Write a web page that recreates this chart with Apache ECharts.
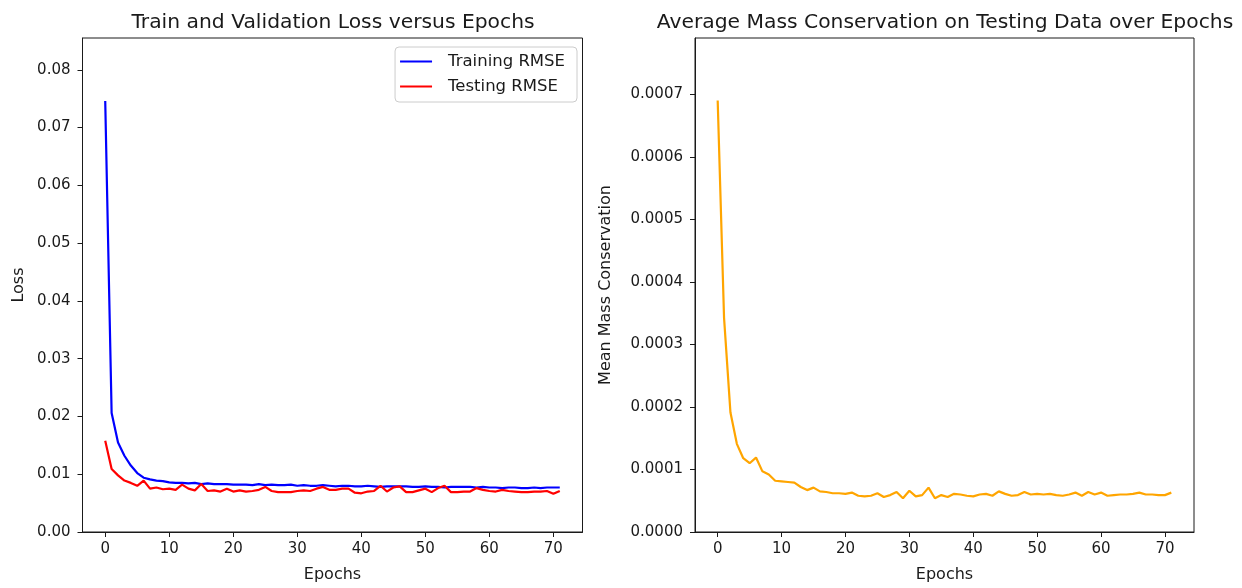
<!DOCTYPE html>
<html>
<head>
<meta charset="utf-8">
<script src="https://cdn.jsdelivr.net/npm/echarts@6/dist/echarts.min.js"></script>
<style>
  html, body { margin: 0; padding: 0; background: #fff; }
  #chart { width: 1242px; height: 588px; }
</style>
</head>
<body>
<div id="chart"></div>
<script>
// Per-epoch training / testing RMSE
const epochs = Array.from({ length: 72 }, (_, i) => i);
const trainingRMSE = [
  0.0746, 0.0206, 0.0155, 0.0132, 0.0115, 0.0102, 0.0094, 0.0091, 0.0089, 0.0088,
  0.0086, 0.0085, 0.0085, 0.0084, 0.0085, 0.0083, 0.0084, 0.0083, 0.0083, 0.0083,
  0.0082, 0.0082, 0.0082, 0.0081, 0.0083, 0.0081, 0.0082, 0.0081, 0.0081, 0.0082,
  0.0080, 0.0081, 0.0080, 0.0080, 0.0081, 0.0080, 0.0079, 0.0080, 0.0080, 0.0079,
  0.0079, 0.0080, 0.0079, 0.0078, 0.0079, 0.0079, 0.0079, 0.0079, 0.0078, 0.0078,
  0.0079, 0.0078, 0.0078, 0.0077, 0.0078, 0.0078, 0.0078, 0.0078, 0.0077, 0.0078,
  0.0077, 0.0077, 0.0076, 0.0077, 0.0077, 0.0076, 0.0076, 0.0077, 0.0076, 0.0077,
  0.0077, 0.0077
];
const testingRMSE = [
  0.0158, 0.0109, 0.0098, 0.0089, 0.0085, 0.0080, 0.0089, 0.0075, 0.0077, 0.0074,
  0.0075, 0.0073, 0.0082, 0.0075, 0.0072, 0.0083, 0.0071, 0.0072, 0.0070, 0.0075,
  0.0070, 0.0072, 0.0070, 0.0071, 0.0073, 0.0078, 0.0071, 0.0069, 0.0069, 0.0069,
  0.0071, 0.0072, 0.0071, 0.0075, 0.0078, 0.0073, 0.0073, 0.0075, 0.0075, 0.0068,
  0.0067, 0.0070, 0.0071, 0.0080, 0.0070, 0.0077, 0.0079, 0.0069, 0.0069, 0.0072,
  0.0075, 0.0069, 0.0076, 0.0080, 0.0069, 0.0069, 0.0070, 0.0070, 0.0076, 0.0073,
  0.0071, 0.0070, 0.0073, 0.0071, 0.0070, 0.0069, 0.0069, 0.0070, 0.0070, 0.0071,
  0.0066, 0.0071
];
// Mean mass conservation on the test set per epoch
const massConservation = [
  0.000690, 0.000342, 0.000191, 0.000141, 0.000118, 0.000110, 0.000119, 0.000097, 0.000092, 0.000082,
  0.000081, 0.000080, 0.000079, 0.000072, 0.000067, 0.000071, 0.000065, 0.000064, 0.000062, 0.000062,
  0.000061, 0.000063, 0.000058, 0.000057, 0.000058, 0.000062, 0.000056, 0.000059, 0.000064, 0.000054,
  0.000066, 0.000057, 0.000059, 0.000071, 0.000054, 0.000059, 0.000056, 0.000061, 0.000060, 0.000058,
  0.000057, 0.000060, 0.000061, 0.000058, 0.000065, 0.000061, 0.000058, 0.000059, 0.000064, 0.000060,
  0.000061, 0.000060, 0.000061, 0.000059, 0.000058, 0.000060, 0.000063, 0.000058, 0.000064, 0.000060,
  0.000063, 0.000058, 0.000059, 0.000060, 0.000060, 0.000061, 0.000063, 0.000060, 0.000060, 0.000059,
  0.000059, 0.000063
];

// Tick marks
const epochTicks = [0, 10, 20, 30, 40, 50, 60, 70];
const lossTicks = [0, 0.01, 0.02, 0.03, 0.04, 0.05, 0.06, 0.07, 0.08];
const massTicks = [0, 0.0001, 0.0002, 0.0003, 0.0004, 0.0005, 0.0006, 0.0007];

const FONT = 'DejaVu Sans';
const INK = '#1a1a1a';

function xAxisCfg(gridIndex) {
  return {
    type: 'value', gridIndex, min: -3.55, max: 74.55,
    name: 'Epochs', nameLocation: 'middle', nameGap: 35,
    nameTextStyle: { fontFamily: FONT, fontSize: 16, color: INK },
    axisLine: { show: true, onZero: false, lineStyle: { color: INK, width: 1 } },
    axisTick: { show: true, inside: false, length: 5, customValues: epochTicks, lineStyle: { color: INK } },
    axisLabel: { customValues: epochTicks, margin: 10, fontFamily: FONT, fontSize: 15, color: INK },
    splitLine: { show: false }
  };
}
function yAxisCfg(gridIndex, max, ticks, digits, name, gap) {
  return {
    type: 'value', gridIndex, min: 0, max,
    name, nameLocation: 'middle', nameGap: gap,
    nameTextStyle: { fontFamily: FONT, fontSize: 16, color: INK },
    axisLine: { show: true, onZero: false, lineStyle: { color: INK, width: 1 } },
    axisTick: { show: true, inside: false, length: 5, customValues: ticks, lineStyle: { color: INK } },
    axisLabel: {
      customValues: ticks, margin: 12, fontFamily: FONT, fontSize: 15, color: INK,
      formatter: v => v.toFixed(digits)
    },
    splitLine: { show: false }
  };
}
function pairs(ys) { return epochs.map((e, i) => [e, ys[i]]); }

const chart = echarts.init(document.getElementById('chart'), null, { renderer: 'canvas' });
chart.setOption({
  backgroundColor: '#ffffff',
  animation: false,
  title: [
    { text: 'Train and Validation Loss versus Epochs', left: 328, top: 8, textAlign: 'center',
      textStyle: { fontFamily: FONT, fontSize: 20.3, fontWeight: 'normal', color: INK } },
    { text: 'Average Mass Conservation on Testing Data over Epochs', left: 940, top: 8, textAlign: 'center',
      textStyle: { fontFamily: FONT, fontSize: 20.3, fontWeight: 'normal', color: INK } }
  ],
  grid: [
    { left: 82.5, right: 659.5, top: 38, bottom: 53, show: true, borderColor: INK, borderWidth: 1, backgroundColor: 'transparent' },
    { left: 695, right: 48, top: 38, bottom: 53, show: true, borderColor: INK, borderWidth: 1, backgroundColor: 'transparent' }
  ],
  legend: {
    data: ['Training RMSE', 'Testing RMSE'],
    orient: 'vertical', right: 665, top: 47,
    icon: 'rect', itemWidth: 32, itemHeight: 2, itemGap: 8,
    padding: [6, 12, 7, 5],
    borderColor: '#cccccc', borderWidth: 1, borderRadius: 4, backgroundColor: '#ffffff',
    textStyle: { fontFamily: FONT, fontSize: 16.5, color: INK, padding: [0, 0, 0, 11] }
  },
  xAxis: [xAxisCfg(0), xAxisCfg(1)],
  yAxis: [
    yAxisCfg(0, 0.0855, lossTicks, 2, 'Loss', 56),
    yAxisCfg(1, 0.00079, massTicks, 4, 'Mean Mass Conservation', 81)
  ],
  series: [
    { name: 'Training RMSE', type: 'line', xAxisIndex: 0, yAxisIndex: 0, data: pairs(trainingRMSE),
      showSymbol: false, lineStyle: { color: '#0000ff', width: 2.2 }, itemStyle: { color: '#0000ff' } },
    { name: 'Testing RMSE', type: 'line', xAxisIndex: 0, yAxisIndex: 0, data: pairs(testingRMSE),
      showSymbol: false, lineStyle: { color: '#ff0000', width: 2.2 }, itemStyle: { color: '#ff0000' } },
    { name: 'Mass Conservation', type: 'line', xAxisIndex: 1, yAxisIndex: 1, data: pairs(massConservation),
      showSymbol: false, lineStyle: { color: '#ffa500', width: 2.2 }, itemStyle: { color: '#ffa500' } }
  ]
});
</script>
</body>
</html>
